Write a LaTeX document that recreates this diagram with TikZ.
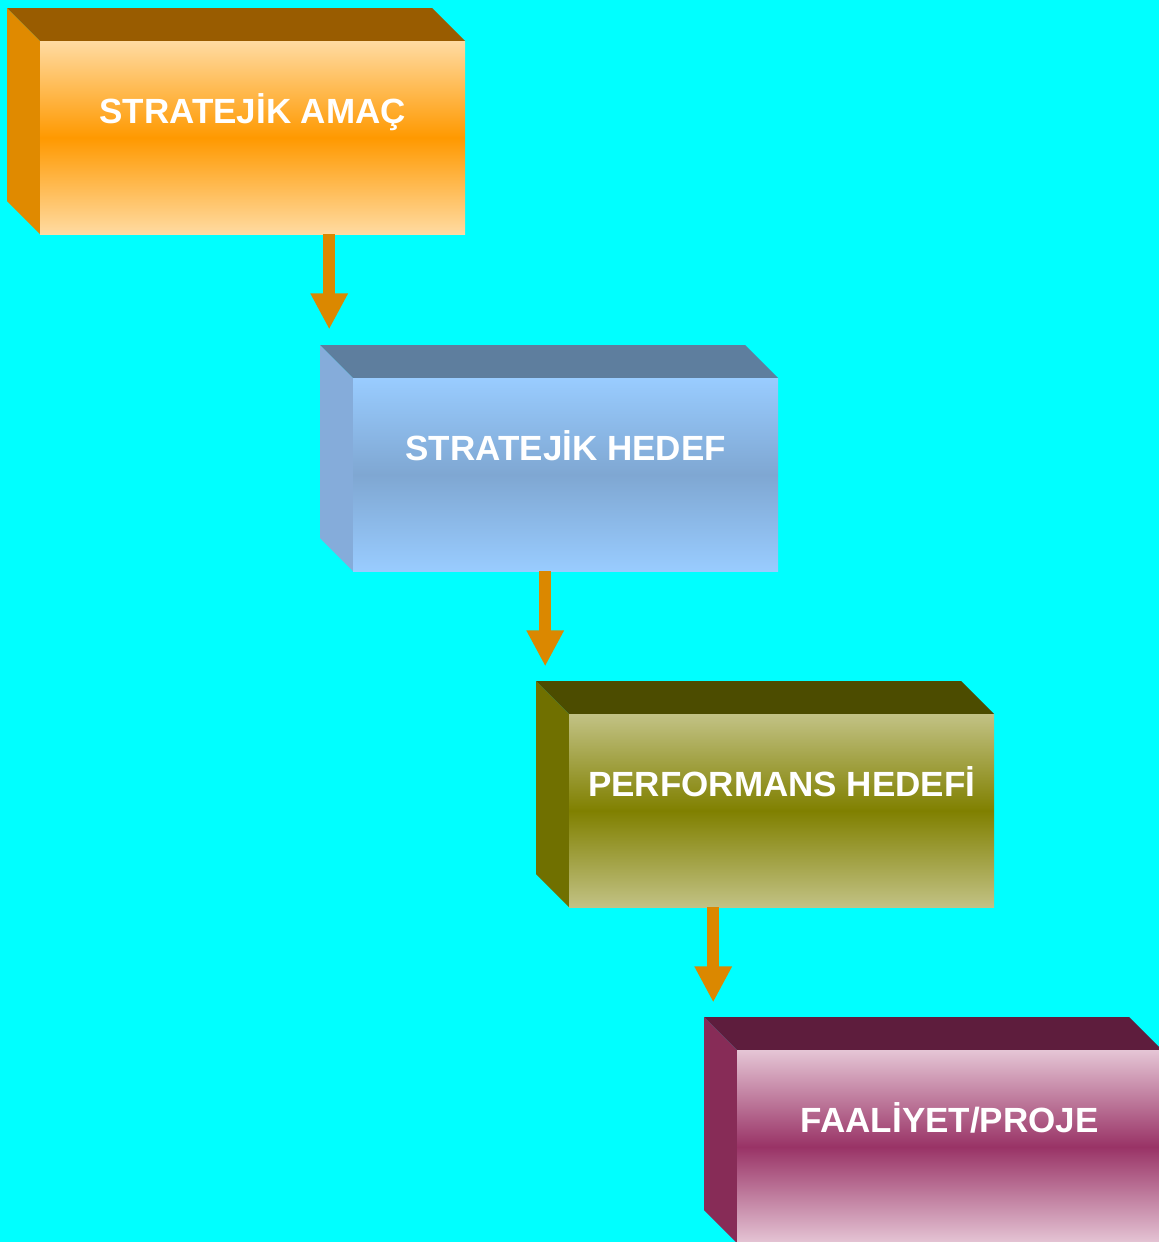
\documentclass[tikz,border=0pt]{standalone}
\usepackage{fontspec}
\setmainfont{Liberation Sans}
\usetikzlibrary{arrows.meta,calc}

\definecolor{bgcyan}{HTML}{00FFFF}
\definecolor{flowor}{HTML}{DB8800}
% box 1
\definecolor{amactop}{HTML}{995C00}
\definecolor{amacside}{HTML}{E08A00}
\definecolor{amaclight}{HTML}{FFDBA2}
\definecolor{amacdark}{HTML}{FF9900}
% box 2
\definecolor{hedeftop}{HTML}{5E7E9E}
\definecolor{hedefside}{HTML}{85ACDA}
\definecolor{hedeflight}{HTML}{99CCFF}
\definecolor{hedefdark}{HTML}{7FA7D2}
% box 3
\definecolor{perftop}{HTML}{4C4C00}
\definecolor{perfside}{HTML}{707000}
\definecolor{perflight}{HTML}{C2C285}
\definecolor{perfdark}{HTML}{808000}
% box 4
\definecolor{faaltop}{HTML}{5E1D3D}
\definecolor{faalside}{HTML}{872C57}
\definecolor{faallight}{HTML}{E5C5D5}
\definecolor{faaldark}{HTML}{993366}

\tikzset{
  frontface/.style={draw=none, inner sep=0pt, anchor=north west,
    minimum width=425pt, minimum height=193pt},
  boxtext/.style={text=white, font=\fontsize{35}{38}\bfseries\selectfont, anchor=base},
  flow/.style={draw=flowor, line width=12pt,
    -{Triangle[width=35pt,length=36pt]}}
}

% #1 name, #2 x, #3 y (back left corner), #4 prefix of colours, #5 text
\newcommand{\kutu}[5]{%
  \fill[#4top] (#2,#3) -- ++(425,0) -- ++(33,33) -- ++(-425,0) -- cycle;
  \fill[#4side] (#2,#3) -- ++(33,33) -- ++(0,193) -- ++(-33,-33) -- cycle;
  \node[frontface, top color=#4light, bottom color=#4light, middle color=#4dark]
    (#1) at (#2+33,#3+33) {};
  \node[boxtext] (#1t) at ([yshift=-82pt]#1.north) {#5};
}

\begin{document}
\begin{tikzpicture}[x=1pt, y=-1pt]
  \useasboundingbox (0,0) rectangle (1159,1242);
  \clip (0,0) rectangle (1159,1242);
  \fill[bgcyan] (0,0) rectangle (1159,1242);

  \kutu{amac}{7}{8}{amac}{STRATEJİK AMAÇ}
  \kutu{hedef}{320}{345}{hedef}{STRATEJİK HEDEF}
  \kutu{perf}{536}{681}{perf}{PERFORMANS HEDEFİ}
  \kutu{faal}{704}{1017}{faal}{FAALİYET/PROJE}

  % arrows between the levels
  \coordinate (a1) at ([xshift=76.5pt]amac.south);
  \coordinate (a2) at ([xshift=-20.5pt]hedef.south);
  \coordinate (a3) at ([xshift=-68.5pt]perf.south);
  \coordinate (e1) at ([yshift=-95pt]a1);
  \coordinate (e2) at ([yshift=-95pt]a2);
  \coordinate (e3) at ([yshift=-95pt]a3);
  \draw[flow] (a1) -- (e1);
  \draw[flow] (a2) -- (e2);
  \draw[flow] (a3) -- (e3);
\end{tikzpicture}
\end{document}
